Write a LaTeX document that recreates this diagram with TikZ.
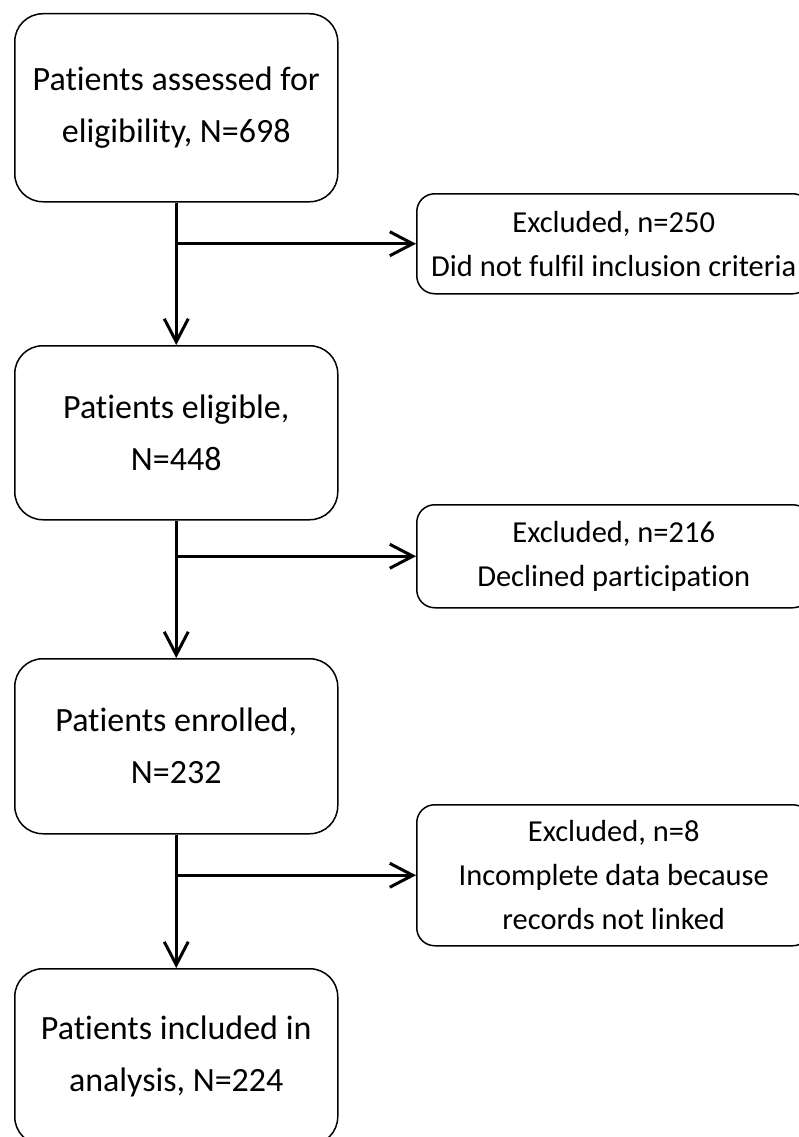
\documentclass[tikz,border=0pt]{standalone}
\usepackage{fontspec}
\setmainfont[RawFeature=-liga]{Carlito}
\usetikzlibrary{arrows.meta}
\begin{document}
\begin{tikzpicture}[x=1pt,y=-1pt,
  mainbox/.style={draw=black, line width=1.5pt, rounded corners=28pt, anchor=north west,
    inner sep=0pt, minimum width=323pt, minimum height=#1, align=center,
    font=\fontsize{34}{52}\selectfont},
  exbox/.style={draw=black, line width=1.5pt, rounded corners=18pt, anchor=north west,
    inner sep=0pt, minimum width=394pt, minimum height=#1, align=center,
    font=\fontsize{30.5}{44}\selectfont},
  arr/.style={line width=3pt, -{Straight Barb[length=23pt,width=24pt,line width=3pt]}}
]
\useasboundingbox[fill=white] (0,0) rectangle (799,1137);
\node[mainbox=188pt] (b1) at (14,13) {Patients assessed for\\eligibility, N=698};
\node[mainbox=174pt] (b2) at (14,345) {Patients eligible,\\N=448};
\node[mainbox=175pt] (b3) at (14,658) {Patients enrolled,\\N=232};
\node[mainbox=176pt] (b4) at (14,968) {Patients included in\\analysis, N=224};
\node[exbox=100pt] (e1) at (416,193) {Excluded, n=250\\Did not fulfil inclusion criteria};
\node[exbox=103pt] (e2) at (416,504) {Excluded, n=216\\Declined participation};
\node[exbox=141pt] (e3) at (416,804) {Excluded, n=8\\Incomplete data because\\records not linked};
\coordinate (j1) at (b1.south |- e1.west);
\coordinate (j2) at (b2.south |- e2.west);
\coordinate (j3) at (b3.south |- e3.west);
\draw[arr] (b1.south) -- (b2.north);
\draw[arr] (b2.south) -- (b3.north);
\draw[arr] (b3.south) -- (b4.north);
\draw[arr] (j1) -- (e1.west);
\draw[arr] (j2) -- (e2.west);
\draw[arr] (j3) -- (e3.west);
\end{tikzpicture}
\end{document}
